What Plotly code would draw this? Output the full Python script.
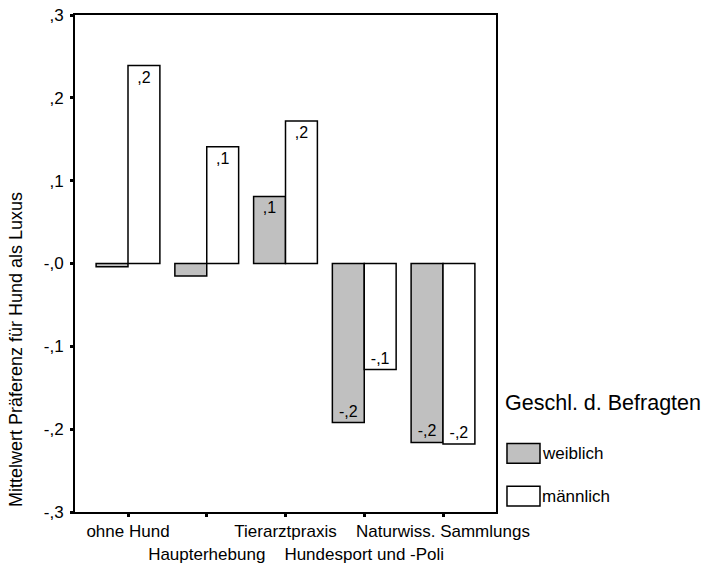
import plotly.graph_objects as go

# Mean preference "Hund als Luxus" per sample group, split by sex
categories = ["ohne Hund", "Haupterhebung", "Tierarztpraxis",
              "Hundesport und -Poli", "Naturwiss. Sammlungs"]
weiblich = [-0.004, -0.015, 0.081, -0.192, -0.216]
maennlich = [0.239, 0.141, 0.172, -0.128, -0.218]

y_tickvals = [0.3, 0.2, 0.1, 0.0, -0.1, -0.2, -0.3]
y_ticktext = [",3", ",2", ",1", "-,0", "-,1", "-,2", "-,3"]

legend_title = "Geschl. d. Befragten"
series_names = ["weiblich", "männlich"]
fills = ["#c0c0c0", "#ffffff"]

FONT = "Liberation Sans, Arial, sans-serif"


def spss_label(v, min_abs=0.05):
    # one-decimal label, comma decimal, no leading zero; hidden on very short bars
    if abs(v) < min_abs:
        return ""
    s = f"{abs(v):.1f}".lstrip("0").replace(".", ",")
    return ("-" if v < 0 else "") + s


fig = go.Figure()
for name, vals, col in zip(series_names, [weiblich, maennlich], fills):
    fig.add_trace(go.Bar(
        x=categories, y=vals, name=name,
        marker=dict(color=col, line=dict(color="#000000", width=1.5)),
        text=[spss_label(v) for v in vals],
        textposition="inside", insidetextanchor="end",
        textangle=0, constraintext="none",
        textfont=dict(family=FONT, size=16, color="#000000"),
        showlegend=False,
    ))

# staggered category labels
ticktext = [c if i % 2 == 0 else "<br>" + c for i, c in enumerate(categories)]

fig.update_layout(
    width=703, height=565,
    margin=dict(l=75, r=207, t=15, b=53),
    paper_bgcolor="white", plot_bgcolor="white",
    barmode="group", bargap=0.19, bargroupgap=0,
    font=dict(family=FONT, size=17, color="#000000"),
    xaxis=dict(
        tickvals=categories, ticktext=ticktext, tickangle=0,
        range=[-0.673, 4.673], automargin=False,
        showline=True, linecolor="#000000", linewidth=2, mirror=True,
        ticks="outside", ticklen=3, tickwidth=3, tickcolor="#000000",
        tickfont=dict(size=17), showgrid=False,
    ),
    yaxis=dict(
        range=[-0.3, 0.3], tickvals=y_tickvals, ticktext=y_ticktext,
        automargin=False, ticklabelstandoff=3,
        showline=True, linecolor="#000000", linewidth=2, mirror=True,
        ticks="outside", ticklen=3, tickwidth=3, tickcolor="#000000",
        tickfont=dict(size=17), showgrid=False, zeroline=False,
    ),
)

# y-axis title
fig.add_annotation(
    text="Mittelwert Präferenz für Hund als Luxus",
    xref="paper", yref="paper", x=-0.14, y=0.326,
    xanchor="center", yanchor="middle", textangle=-90,
    showarrow=False, font=dict(size=18),
)

# legend drawn with large swatches
fig.add_annotation(
    text=legend_title, xref="paper", yref="paper",
    x=1.0166, y=0.219, xanchor="left", yanchor="middle",
    showarrow=False, font=dict(size=21.5),
)
sw_y = [0.118, 0.032]
for name, col, yc in zip(series_names, fills, sw_y):
    fig.add_shape(
        type="rect", xref="paper", yref="paper",
        x0=1.0261, x1=1.1045, y0=yc - 0.020, y1=yc + 0.020,
        fillcolor=col, line=dict(color="#000000", width=1.5),
    )
    fig.add_annotation(
        text=name, xref="paper", yref="paper",
        x=1.1045, y=yc, xanchor="left", yanchor="middle",
        showarrow=False, font=dict(size=17),
    )

fig.write_html("out.html")
